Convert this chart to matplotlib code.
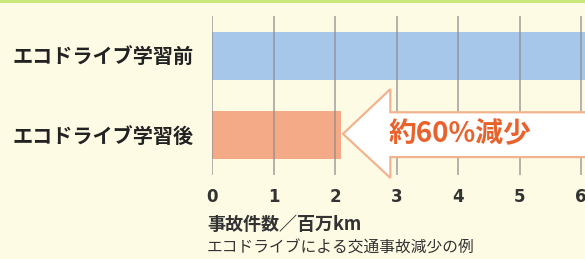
"""エコドライブ学習前後の事故件数を横棒グラフで比較する。"""
import matplotlib
matplotlib.use("Agg")
import matplotlib.pyplot as plt
from matplotlib.patches import Polygon

plt.rcParams["font.family"] = ["Noto Sans CJK JP", "DejaVu Sans"]

categories = ["エコドライブ学習後", "エコドライブ学習前"]
values = [2.1, 6.5]
bar_colors = ["#f4a987", "#a6c6ea"]
xticks = [0, 1, 2, 3, 4, 5, 6]
xlabel = "事故件数／百万km"
caption = "エコドライブによる交通事故減少の例"
callout = "約60%減少"

BG = "#fefbe5"
W, H = 585, 259

fig = plt.figure(figsize=(W / 100, H / 100), dpi=100, facecolor=BG)
# 軸領域: x=212..585px, y=16..175px (上から)
ax = fig.add_axes([212 / W, 1 - 175 / H, (W - 212) / W, 159 / H])
ax.set_facecolor(BG)

ypos = list(range(len(categories)))
ax.barh(ypos, values, height=0.6, color=bar_colors, zorder=1)
ax.set_xlim(0, (W - 212) / 61.5)
ax.set_ylim(-0.494, 1.494)

for x in xticks:
    ax.axvline(x, color="#8c8c8c", lw=1.3, alpha=0.7, zorder=2)

ax.set_xticks(xticks)
ax.set_xticklabels([str(t) for t in xticks], fontsize=12, fontweight="bold",
                   color="#333333", family="DejaVu Sans")
ax.tick_params(axis="x", length=0, pad=9)
ax.set_yticks(ypos)
ax.set_yticklabels(categories, fontsize=14.5, fontweight="bold", color="#222222")
ax.tick_params(axis="y", length=0, pad=13)
for s in ax.spines.values():
    s.set_visible(False)

# 減少を示す左向き矢印（学習後の棒の右端から）
tip = values[0] + 0.03
head = tip + 0.77
arrow = Polygon([(tip, 0.02), (head, 0.58), (head, 0.29), (7.0, 0.29),
                 (7.0, -0.27), (head, -0.27), (head, -0.53)],
                closed=True, facecolor="white", edgecolor="#f1b48f", lw=1.6,
                zorder=3, clip_on=False)
ax.add_patch(arrow)
ax.text(4.03, 0.02, callout, ha="center", va="center", fontsize=20,
        fontweight="bold", color="#e8622c", zorder=4)

fig.text(207 / W, 1 - 225 / H, xlabel, ha="left", va="center", fontsize=13,
         fontweight="bold", color="#333333")
fig.text(207 / W, 1 - 248 / H, caption, ha="left", va="center", fontsize=11.3,
         color="#333333")

# 上端の黄緑の罫線
fig.add_artist(plt.Line2D([0, 1], [1 - 1 / H, 1 - 1 / H], color="#c8e87a",
                          lw=2.2, transform=fig.transFigure))

fig.savefig("out.png", dpi=100, facecolor=BG)
